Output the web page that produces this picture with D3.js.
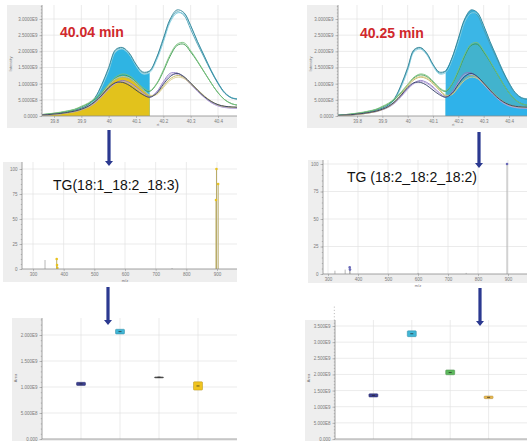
<!DOCTYPE html>
<html>
<head>
<meta charset="utf-8">
<script src="https://cdn.jsdelivr.net/npm/d3@7"></script>
<style>
  body { margin: 0; background: #fff; }
  svg { display: block; font-family: Arial, 'Liberation Sans', sans-serif; }
</style>
</head>
<body>
<script>
// ---- chromatogram data (retention time, min) ----
const rtTime = [39.725, 39.75, 39.775, 39.8, 39.825, 39.85, 39.875, 39.9, 39.925, 39.95, 39.975,
  40.0, 40.025, 40.05, 40.075, 40.1, 40.125, 40.15, 40.175, 40.2, 40.225, 40.25, 40.275,
  40.3, 40.325, 40.35, 40.375, 40.4, 40.425, 40.45, 40.475]
const cyanA = [0.02, 0.03, 0.04, 0.06, 0.09, 0.12, 0.17, 0.24, 0.34, 0.55, 0.95, 1.45, 2.02, 2.1, 1.92, 1.58, 1.33, 1.38, 1.78, 2.35, 2.95, 3.22, 3.12, 2.68, 2.22, 1.8, 1.38, 1.0, 0.7, 0.56, 0.52]
const cyanB = [0.02, 0.03, 0.04, 0.06, 0.08, 0.11, 0.16, 0.22, 0.32, 0.52, 0.9, 1.4, 1.98, 2.07, 1.9, 1.55, 1.3, 1.34, 1.72, 2.28, 2.9, 3.18, 3.16, 2.78, 2.3, 1.86, 1.42, 1.03, 0.72, 0.57, 0.53]
const cyanC = [0.02, 0.03, 0.05, 0.07, 0.09, 0.12, 0.17, 0.24, 0.35, 0.57, 0.98, 1.5, 2.05, 2.12, 1.95, 1.6, 1.36, 1.4, 1.8, 2.4, 3.0, 3.28, 3.2, 2.8, 2.3, 1.85, 1.4, 1.02, 0.72, 0.56, 0.52]
const greenA = [0.02, 0.04, 0.06, 0.08, 0.11, 0.15, 0.2, 0.28, 0.38, 0.52, 0.72, 0.95, 1.18, 1.27, 1.22, 1.05, 0.85, 0.76, 0.98, 1.38, 1.85, 2.18, 2.22, 1.98, 1.68, 1.35, 1.02, 0.72, 0.5, 0.38, 0.33]
const greenB = [0.02, 0.04, 0.06, 0.09, 0.12, 0.16, 0.21, 0.3, 0.4, 0.55, 0.75, 0.98, 1.2, 1.3, 1.25, 1.08, 0.88, 0.78, 1.0, 1.42, 1.9, 2.22, 2.27, 2.02, 1.7, 1.36, 1.02, 0.72, 0.5, 0.38, 0.33]
const purpleA = [0.01, 0.02, 0.03, 0.05, 0.07, 0.1, 0.14, 0.2, 0.28, 0.42, 0.62, 0.85, 1.02, 1.1, 1.04, 0.9, 0.72, 0.6, 0.74, 1.06, 1.32, 1.33, 1.2, 1.0, 0.78, 0.58, 0.42, 0.32, 0.27, 0.25, 0.24]
const purpleB = [0.01, 0.02, 0.03, 0.05, 0.07, 0.1, 0.13, 0.19, 0.27, 0.4, 0.6, 0.82, 1.0, 1.07, 1.01, 0.87, 0.7, 0.58, 0.71, 1.02, 1.27, 1.29, 1.18, 0.97, 0.76, 0.57, 0.41, 0.31, 0.26, 0.24, 0.23]
const oliveA = [0.01, 0.02, 0.03, 0.05, 0.07, 0.1, 0.14, 0.2, 0.29, 0.44, 0.66, 0.92, 1.12, 1.2, 1.15, 1.0, 0.8, 0.62, 0.68, 0.92, 1.15, 1.25, 1.2, 1.02, 0.82, 0.62, 0.46, 0.35, 0.3, 0.28, 0.27]
const oliveB = [0.01, 0.02, 0.03, 0.05, 0.07, 0.1, 0.15, 0.21, 0.3, 0.46, 0.68, 0.95, 1.15, 1.22, 1.18, 1.03, 0.83, 0.65, 0.66, 0.88, 1.1, 1.2, 1.16, 0.99, 0.8, 0.6, 0.45, 0.34, 0.29, 0.27, 0.26]
const navyA = [0.02, 0.03, 0.04, 0.06, 0.08, 0.11, 0.15, 0.21, 0.3, 0.45, 0.65, 0.88, 1.03, 1.04, 0.95, 0.8, 0.66, 0.58, 0.7, 0.98, 1.22, 1.32, 1.22, 1.02, 0.8, 0.6, 0.45, 0.35, 0.3, 0.28, 0.27]
const rtTicks = [39.8, 39.9, 40, 40.1, 40.2, 40.3, 40.4]
const rtTickLabels = ['39.8', '39.9', '40', '40.1', '40.2', '40.3', '40.4']
const intTicks = [0, 0.5, 1, 1.5, 2, 2.5, 3]
const intTickLabels = ['0.0000', '5.0000E8', '1.0000E9', '1.5000E9', '2.0000E9', '2.5000E9', '3.0000E9']
const rtCut = 40.15

// ---- MS/MS spectra ----
const mzTicks = [300, 400, 500, 600, 700, 800, 900]
const relTicks = [0, 25, 50, 75, 100]
const ms1HitMz = [377.3, 378.3, 379.3, 896.8, 898.3, 903.8]
const ms1HitInt = [10, 4, 1, 69, 100, 85]
const ms1OtherMz = [339.2, 753.5]
const ms1OtherInt = [9, 1]
const ms2HitMz = [896.8, 372.3, 373.3]
const ms2HitInt = [100, 6, 4]
const ms2OtherMz = [323.1, 357.2, 600.4, 760.5]
const ms2OtherInt = [3, 4, 1, 1]

// ---- peak areas (x 1e9) ----
const groups = ['G1', 'G2', 'G3', 'G4']
const areaLeftQ1 = [1.03, 2.02, 1.186, 0.94]
const areaLeftMed = [1.06, 2.065, 1.19, 1.02]
const areaLeftQ3 = [1.09, 2.11, 1.194, 1.1]
const areaRightQ1 = [1.3, 3.17, 1.99, 1.25]
const areaRightMed = [1.35, 3.26, 2.06, 1.29]
const areaRightQ3 = [1.4, 3.35, 2.14, 1.33]
const areaLeftTicks = [0, 0.5, 1, 1.5, 2]
const areaLeftLabels = ['0.000', '5.000E8', '1.000E9', '1.500E9', '2.000E9']
const areaRightTicks = [0, 0.5, 1, 1.5, 2, 2.5, 3, 3.5]
const areaRightLabels = ['0.000', '5.000E8', '1.000E9', '1.500E9', '2.000E9', '2.500E9', '3.000E9', '3.500E9']

const svg = d3.select('body').append('svg').attr('width', 527).attr('height', 441)
const defs = svg.append('defs')
let clipId = 0

function frame (gray, p) {
  const g = svg.append('g')
  g.append('rect').attr('x', gray.x).attr('y', gray.y).attr('width', gray.w).attr('height', gray.h).attr('fill', '#eeeeee')
  g.append('rect').attr('x', p.l).attr('y', p.t).attr('width', p.r - p.l).attr('height', p.b - p.t).attr('fill', '#fff')
  clipId++
  defs.append('clipPath').attr('id', 'clip' + clipId)
    .append('rect').attr('x', p.l).attr('y', p.t).attr('width', p.r - p.l).attr('height', p.b - p.t)
  g.clip = 'url(#clip' + clipId + ')'
  return g
}

function grid (g, p, xs, ys) {
  g.append('g').selectAll('line').data(xs).join('line')
    .attr('x1', d => d).attr('x2', d => d).attr('y1', p.t).attr('y2', p.b)
    .attr('stroke', '#e3e3e3').attr('stroke-width', 0.7)
  g.append('g').selectAll('line').data(ys).join('line')
    .attr('x1', p.l).attr('x2', p.r).attr('y1', d => d).attr('y2', d => d)
    .attr('stroke', '#e3e3e3').attr('stroke-width', 0.7)
}

function styleAxis (sel) {
  sel.attr('font-size', 4.5).attr('font-family', 'Arial, sans-serif')
  sel.select('.domain').remove()
  sel.selectAll('.tick line').attr('stroke', '#999').attr('stroke-width', 0.6)
  sel.selectAll('.tick text').attr('fill', '#7a7a7a')
}

function axes (g, p, x, y, xt, xl, yt, yl, yMinor) {
  if (xt) {
    g.append('g').attr('transform', `translate(0,${p.b})`)
      .call(d3.axisBottom(x).tickValues(xt).tickFormat((d, i) => xl[i]).tickSize(2).tickPadding(2))
      .call(styleAxis)
  }
  g.append('g').attr('transform', `translate(${p.l},0)`)
    .call(d3.axisLeft(y).tickValues(yMinor).tickFormat('').tickSize(1.2))
    .call(styleAxis)
  g.append('g').attr('transform', `translate(${p.l},0)`)
    .call(d3.axisLeft(y).tickValues(yt).tickFormat((d, i) => yl[i]).tickSize(2.5).tickPadding(2))
    .call(styleAxis)
  g.append('line').attr('x1', p.l).attr('x2', p.r).attr('y1', p.b).attr('y2', p.b).attr('stroke', '#8a8a8a').attr('stroke-width', 0.8)
  g.append('line').attr('x1', p.l).attr('x2', p.l).attr('y1', p.t).attr('y2', p.b).attr('stroke', '#8a8a8a').attr('stroke-width', 0.8)
}

function smallLabel (g, x, y, text, rotate) {
  g.append('text').attr('x', x).attr('y', y).attr('font-size', 4).attr('fill', '#777')
    .attr('text-anchor', 'middle')
    .attr('transform', rotate ? `rotate(-90,${x},${y})` : null)
    .text(text)
}

const chromSeries = [cyanA, cyanB, cyanC, greenA, greenB, purpleA, purpleB, oliveA, oliveB, navyA]
const chromColors = ['#4a9fb3', '#86cfe2', '#2f8296', '#3d9a4f', '#79c27e', '#8c78c4', '#b9a6dc', '#bdb45c', '#d9cc8a', '#2e3b63']

function chromPanel (gray, p, xRange, fills, title, titleX, titleY) {
  const g = frame(gray, p)
  const x = d3.scaleLinear().domain([39.8, 40.4]).range(xRange)
  const y = d3.scaleLinear().domain([0, 3]).range([p.b, 19])
  grid(g, p, rtTicks.map(x), intTicks.slice(1).map(y))
  const plot = g.append('g').attr('clip-path', g.clip)
  const line = d3.line().x(d => x(d[0])).y(d => y(d[1])).curve(d3.curveCatmullRom)
  const area = d3.area().x(d => x(d[0])).y0(y(0)).y1(d => y(d[1])).curve(d3.curveCatmullRom)
  fills.forEach(f => {
    const pts = d3.zip(rtTime, f.values).filter(f.keep)
    plot.append('path').attr('d', area(pts)).attr('fill', f.color).attr('fill-opacity', f.opacity || 1)
  })
  chromSeries.forEach((s, i) => {
    plot.append('path').attr('d', line(d3.zip(rtTime, s)))
      .attr('fill', 'none').attr('stroke', chromColors[i]).attr('stroke-width', 0.9)
  })
  axes(g, p, x, y, rtTicks, rtTickLabels, intTicks, intTickLabels, d3.range(0, 3.45, 0.1))
  smallLabel(g, gray.x + 5, 64, 'Intensity', true)
  smallLabel(g, x(40.18), 126, 'rt', false)
  g.append('text').attr('x', titleX).attr('y', titleY).attr('font-size', 14).attr('font-weight', 'bold')
    .attr('fill', '#d0282c').text(title)
}

chromPanel({ x: 7, y: 5, w: 230, h: 123 }, { l: 42, r: 237, t: 5, b: 116 }, [54, 218], [
  { values: cyanB, keep: d => d[0] <= rtCut, color: '#2fb4e3' },
  { values: oliveA, keep: d => d[0] <= rtCut, color: '#e2c21c' }
], '40.04 min', 60, 37)

chromPanel({ x: 307, y: 5, w: 220, h: 123 }, { l: 338, r: 527, t: 5, b: 116 }, [357, 509], [
  { values: cyanC, keep: d => d[0] >= rtCut, color: '#3bb6e6' },
  { values: greenB, keep: d => d[0] >= rtCut, color: '#45b2c4', opacity: 0.75 },
  { values: navyA, keep: d => d[0] >= rtCut, color: '#2fb2ea' }
], '40.25 min', 360, 38)

function specPanel (gray, p, xRange, yRange, hitMz, hitInt, hitStem, hitDot, otherMz, otherInt, name, nameX, nameY) {
  const g = frame(gray, p)
  const x = d3.scaleLinear().domain([300, 900]).range(xRange)
  const y = d3.scaleLinear().domain([0, 100]).range(yRange)
  grid(g, p, mzTicks.map(x), relTicks.slice(1).map(y))
  const plot = g.append('g').attr('clip-path', g.clip)
  plot.selectAll('line.other').data(d3.zip(otherMz, otherInt)).join('line').attr('class', 'other')
    .attr('x1', d => x(d[0])).attr('x2', d => x(d[0])).attr('y1', y(0)).attr('y2', d => y(d[1]))
    .attr('stroke', '#9a9a9a').attr('stroke-width', 0.7)
  const hits = d3.zip(hitMz, hitInt)
  plot.selectAll('line.hit').data(hits).join('line').attr('class', 'hit')
    .attr('x1', d => x(d[0])).attr('x2', d => x(d[0])).attr('y1', y(0)).attr('y2', d => y(d[1]))
    .attr('stroke', hitStem).attr('stroke-width', 1)
  plot.selectAll('circle').data(hits).join('circle')
    .attr('cx', d => x(d[0])).attr('cy', d => y(d[1])).attr('r', 1.3).attr('fill', hitDot)
  axes(g, p, x, y, mzTicks, mzTicks.map(String), relTicks, relTicks.map(String), d3.range(0, 101, 5))
  smallLabel(g, x(600), p.b + 13, 'm/z', false)
  g.append('text').attr('x', nameX).attr('y', nameY).attr('font-size', 14).attr('fill', '#111').text(name)
}

specPanel({ x: 3, y: 162, w: 234, h: 120 }, { l: 22, r: 237, t: 162, b: 269 }, [33, 217], [269, 169],
  ms1HitMz, ms1HitInt, '#b8aa66', '#e8c21e', ms1OtherMz, ms1OtherInt, 'TG(18:1_18:2_18:3)', 53, 190)
specPanel({ x: 308, y: 160, w: 219, h: 123 }, { l: 323, r: 527, t: 160, b: 274 }, [328, 508], [274, 164],
  ms2HitMz, ms2HitInt, '#b4b4b4', '#6a6ab8', ms2OtherMz, ms2OtherInt, 'TG (18:2_18:2_18:2)', 347, 182)

function boxPanel (gray, p, yDomain, yRange, q1, med, q3, colors, ticks, labels) {
  const g = frame(gray, p)
  const x = d3.scalePoint().domain(groups).range([p.l, p.r]).padding(1)
  const y = d3.scaleLinear().domain(yDomain).range(yRange)
  grid(g, p, groups.map(x), ticks.slice(1).map(y))
  const plot = g.append('g').attr('clip-path', g.clip)
  groups.forEach((k, i) => {
    const cx = x(k)
    const h = Math.max(y(q1[i]) - y(q3[i]), 1)
    plot.append('rect').attr('x', cx - 4.5).attr('y', y(q3[i])).attr('width', 9).attr('height', h)
      .attr('rx', 0.8)
      .attr('fill', colors[i]).attr('stroke', d3.color(colors[i]).darker(0.8)).attr('stroke-width', 0.5)
    plot.append('line').attr('x1', cx - 1.5).attr('x2', cx + 1.5).attr('y1', y(med[i])).attr('y2', y(med[i]))
      .attr('stroke', '#222').attr('stroke-width', 0.7)
  })
  axes(g, p, null, y, null, null, ticks, labels, d3.range(yDomain[0], yDomain[1] * 1.2, 0.1))
  smallLabel(g, gray.x + 5, 378, 'Area', true)
}

boxPanel({ x: 12, y: 318, w: 225, h: 123 }, { l: 42, r: 237, t: 318, b: 439 }, [0, 2], [439, 335],
  areaLeftQ1, areaLeftMed, areaLeftQ3, ['#3b3f8f', '#40b6d6', '#555555', '#f0c420'], areaLeftTicks, areaLeftLabels)
boxPanel({ x: 305, y: 320, w: 222, h: 121 }, { l: 335, r: 527, t: 320, b: 439 }, [0, 3.5], [439, 326],
  areaRightQ1, areaRightMed, areaRightQ3, ['#3b3f8f', '#40b6d6', '#5cb85c', '#e8b850'], areaRightTicks, areaRightLabels)

// arrows between the panels
function arrow (x, y0, y1) {
  svg.append('path')
    .attr('d', `M${x - 1.6},${y0}L${x + 1.6},${y0}L${x + 1.6},${y1 - 5}L${x + 4},${y1 - 5}L${x},${y1}L${x - 4},${y1 - 5}L${x - 1.6},${y1 - 5}Z`)
    .attr('fill', '#2b3990')
}
arrow(109, 130, 166)
arrow(108, 287, 325)
arrow(479, 132, 168)
arrow(480, 288, 326)
</script>
</body>
</html>
